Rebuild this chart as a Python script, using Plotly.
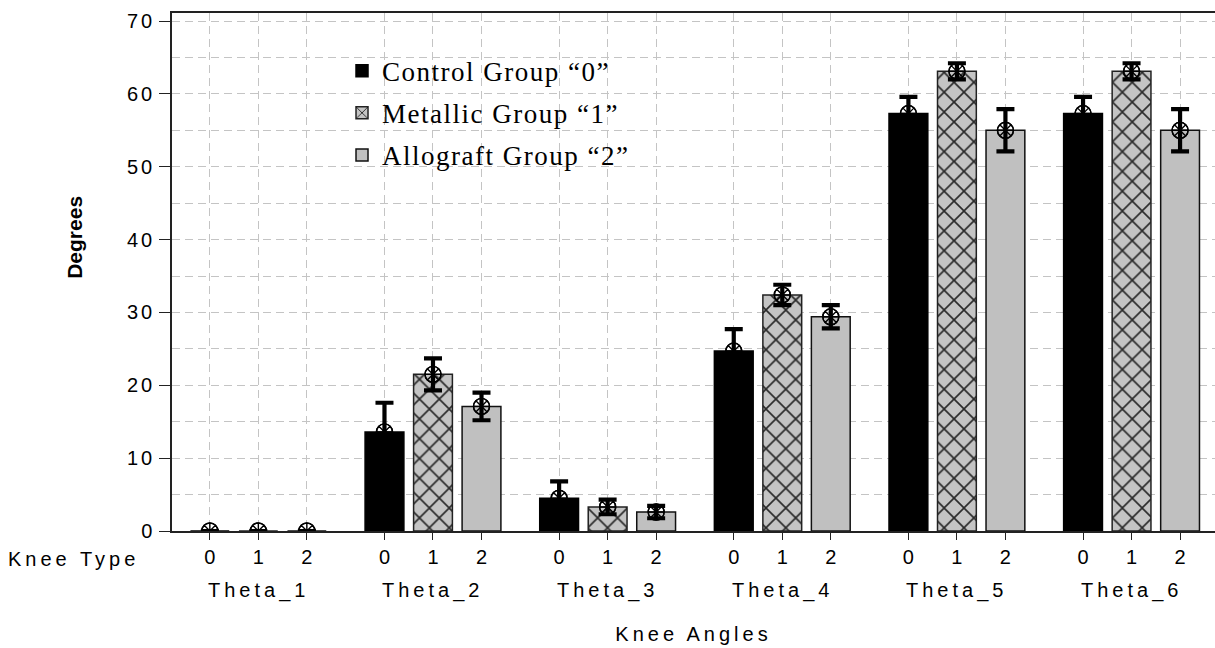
import plotly.graph_objects as go

# ---------------- data ----------------
ANGLES = ["Theta_1", "Theta_2", "Theta_3", "Theta_4", "Theta_5", "Theta_6"]
KNEE_TYPES = ["0", "1", "2"]
GROUP_NAMES = ["Control Group “0”", "Metallic Group “1”", "Allograft Group “2”"]
Y_TICKS = [0, 10, 20, 30, 40, 50, 60, 70]

CONTROL_MEAN = [0, 13.6, 4.5, 24.7, 57.3, 57.3]
CONTROL_ERR = [0, 4.0, 2.3, 3.0, 2.3, 2.3]
METALLIC_MEAN = [0, 21.5, 3.3, 32.4, 63.1, 63.1]
METALLIC_ERR = [0, 2.2, 1.0, 1.4, 1.1, 1.1]
ALLOGRAFT_MEAN = [0, 17.1, 2.6, 29.4, 55.0, 55.0]
ALLOGRAFT_ERR = [0, 1.9, 0.85, 1.6, 2.9, 2.9]

# ---------------- layout helpers ----------------
GROUP_STEP = 3.6
SANS = "Liberation Sans, Arial, sans-serif"
SERIF = "Liberation Serif, Times New Roman, serif"
GRID = "#c4c4c4"
DASH = "8px,5px"


def spaced(text, px):
    return f'<span style="letter-spacing:{px}px">{text}</span>'


def positions(k):
    return [g * GROUP_STEP + k for g in range(len(ANGLES))]


means = [CONTROL_MEAN, METALLIC_MEAN, ALLOGRAFT_MEAN]
errs = [CONTROL_ERR, METALLIC_ERR, ALLOGRAFT_ERR]
markers = [
    dict(color="black", line=dict(color="black", width=1.5)),
    dict(color="#c4c4c4", line=dict(color="#222222", width=1.5),
         pattern=dict(shape="x", fgcolor="#2a2a2a", bgcolor="#c4c4c4",
                      size=14, solidity=0.22, fillmode="replace")),
    dict(color="#c0c0c0", line=dict(color="#111111", width=1.5)),
]

fig = go.Figure()
for k in range(3):
    fig.add_trace(go.Bar(
        x=positions(k), y=means[k], width=0.8, name=spaced(GROUP_NAMES[k], 1.5),
        legendgroup=f"g{k}", marker=markers[k],
        error_y=dict(type="data", array=errs[k], color="black",
                     thickness=4.2, width=9),
    ))

all_x = [x for k in range(3) for x in positions(k)]
all_y = [v for k in range(3) for v in means[k]]
for sym in ["circle-x-open", "circle-cross-open"]:
    fig.add_trace(go.Scatter(
        x=all_x, y=all_y, mode="markers", showlegend=False, hoverinfo="skip",
        marker=dict(symbol=sym, size=16, color="black", line=dict(width=1.4)),
    ))

tickvals = [g * GROUP_STEP + k for g in range(len(ANGLES)) for k in range(3)]
ticktext = [KNEE_TYPES[k] for g in range(len(ANGLES)) for k in range(3)]

annotations = []
for g, name in enumerate(ANGLES):
    annotations.append(dict(
        x=g * GROUP_STEP + 1, xref="x", y=0, yref="paper", yanchor="top",
        yshift=-46, showarrow=False, text=spaced(name, 4),
        font=dict(family=SANS, size=20, color="black")))
annotations.append(dict(
    x=-0.03, xref="paper", y=0, yref="paper", xanchor="right", yanchor="top",
    yshift=-15, showarrow=False, text=spaced("Knee Type", 4),
    font=dict(family=SANS, size=20, color="black")))
annotations.append(dict(
    x=-0.093, xref="paper", y=0.566, yref="paper", xanchor="center",
    yanchor="middle", textangle=-90, showarrow=False, text="<b>Degrees</b>",
    font=dict(family=SANS, size=21, color="black")))

fig.update_layout(
    width=1215, height=648,
    margin=dict(l=172, r=0, t=13, b=117),
    paper_bgcolor="white", plot_bgcolor="white",
    barmode="overlay",
    font=dict(family=SANS, size=20, color="black"),
    showlegend=True,
    legend=dict(x=0.163, y=0.935, xanchor="left", yanchor="top",
                bgcolor="rgba(0,0,0,0)", tracegroupgap=4,
                font=dict(family=SERIF, size=27, color="black")),
    annotations=annotations,
    xaxis=dict(
        range=[-0.78, 20.72], tickmode="array", tickvals=tickvals,
        ticktext=ticktext, ticks="outside", ticklen=7, tickcolor="#222222",
        showgrid=True, gridcolor=GRID, griddash=DASH, gridwidth=1,
        showline=True, linecolor="#222222", linewidth=1.5, mirror=True,
        zeroline=False, tickfont=dict(family=SANS, size=20),
        title=dict(text=spaced("Knee Angles", 4), standoff=60,
                   font=dict(family=SANS, size=20)),
    ),
    yaxis=dict(
        range=[0, 71.1], tickmode="array", tickvals=Y_TICKS,
        ticktext=[spaced(str(v), 3) for v in Y_TICKS],
        ticks="outside", ticklen=11, tickcolor="#222222",
        showgrid=True, gridcolor=GRID, griddash=DASH, gridwidth=1,
        minor=dict(dtick=5, tick0=0, showgrid=True, gridcolor=GRID,
                   griddash=DASH, gridwidth=1),
        showline=True, linecolor="#222222", linewidth=1.5, mirror=False,
        zeroline=False, tickfont=dict(family=SANS, size=20),
    ),
)

fig.write_html("out.html")
